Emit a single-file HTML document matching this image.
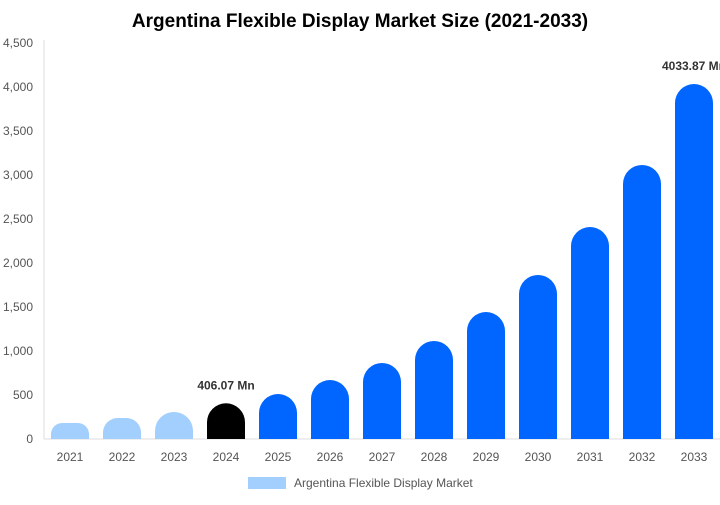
<!DOCTYPE html>
<html><head><meta charset="utf-8"><style>
body{margin:0;background:#fff;font-family:"Liberation Sans",Arial,sans-serif}
</style></head><body>
<svg id="c" width="720" height="500" xmlns="http://www.w3.org/2000/svg">
<text x="360" y="27" text-anchor="middle" font-size="19" font-weight="bold" fill="#000">Argentina Flexible Display Market Size (2021-2033)</text>
<g id="axes"></g><g id="bars"></g>
<g>
<rect x="248" y="477" width="38" height="12" fill="#a3cffe"/>
<text x="294" y="487" font-size="12" fill="#555">Argentina Flexible Display Market</text>
</g>
</svg>
<script>
const categories=["2021","2022","2023","2024","2025","2026","2027","2028","2029","2030","2031","2032","2033"];
const values=[182,239,307,406.07,511,670,864,1114,1443,1864,2409,3114,4033.87];
const yTicks=[0,500,1000,1500,2000,2500,3000,3500,4000,4500];
const labels={"2024":"406.07 Mn","2033":"4033.87 Mn"};
const NS="http://www.w3.org/2000/svg";
const x0=44,x1=720,yB=439,yT=43,yMax=4500,step=52,bw=38;
const y=v=>yB-(v/yMax)*(yB-yT);
const xc=i=>70+i*step;
function mk(t,a,p){const e=document.createElementNS(NS,t);for(const k in a)e.setAttribute(k,a[k]);p.appendChild(e);return e;}
const ax=document.getElementById('axes'),bg=document.getElementById('bars');
const yl=mk('line',{x1:x0,y1:yT-3,x2:x0,y2:yB,stroke:'#ddd'},ax);


const xl=mk('line',{x1:x0,y1:yB,x2:x1,y2:yB,stroke:'#ddd'},ax);


yTicks.forEach(t=>{const e=mk('text',{x:33,y:y(t)+4,'text-anchor':'end','font-size':12,fill:'#555'},ax);e.textContent=t.toLocaleString('en-US');

});
categories.forEach((c,i)=>{
const v=values[i],top=y(v),h=yB-top,r=Math.min(19,h*0.7),L=xc(i)-bw/2,R=xc(i)+bw/2;
const col=i<3?'#a3cffe':(c==='2024'?'#000':'#0066ff');
const p=mk('path',{d:`M${L},${yB}V${top+r}A${r},${r} 0 0 1 ${L+r},${top}H${R-r}A${r},${r} 0 0 1 ${R},${top+r}V${yB}Z`,fill:col},bg);


const t=mk('text',{x:xc(i),y:yB+22,'text-anchor':'middle','font-size':12,fill:'#555'},ax);t.textContent=c;


if(labels[c]){const l=mk('text',{x:xc(i),y:top-14,'text-anchor':'middle','font-size':12,'font-weight':'bold',fill:'#333'},bg);l.textContent=labels[c];

}
});
</script>
</body></html>
